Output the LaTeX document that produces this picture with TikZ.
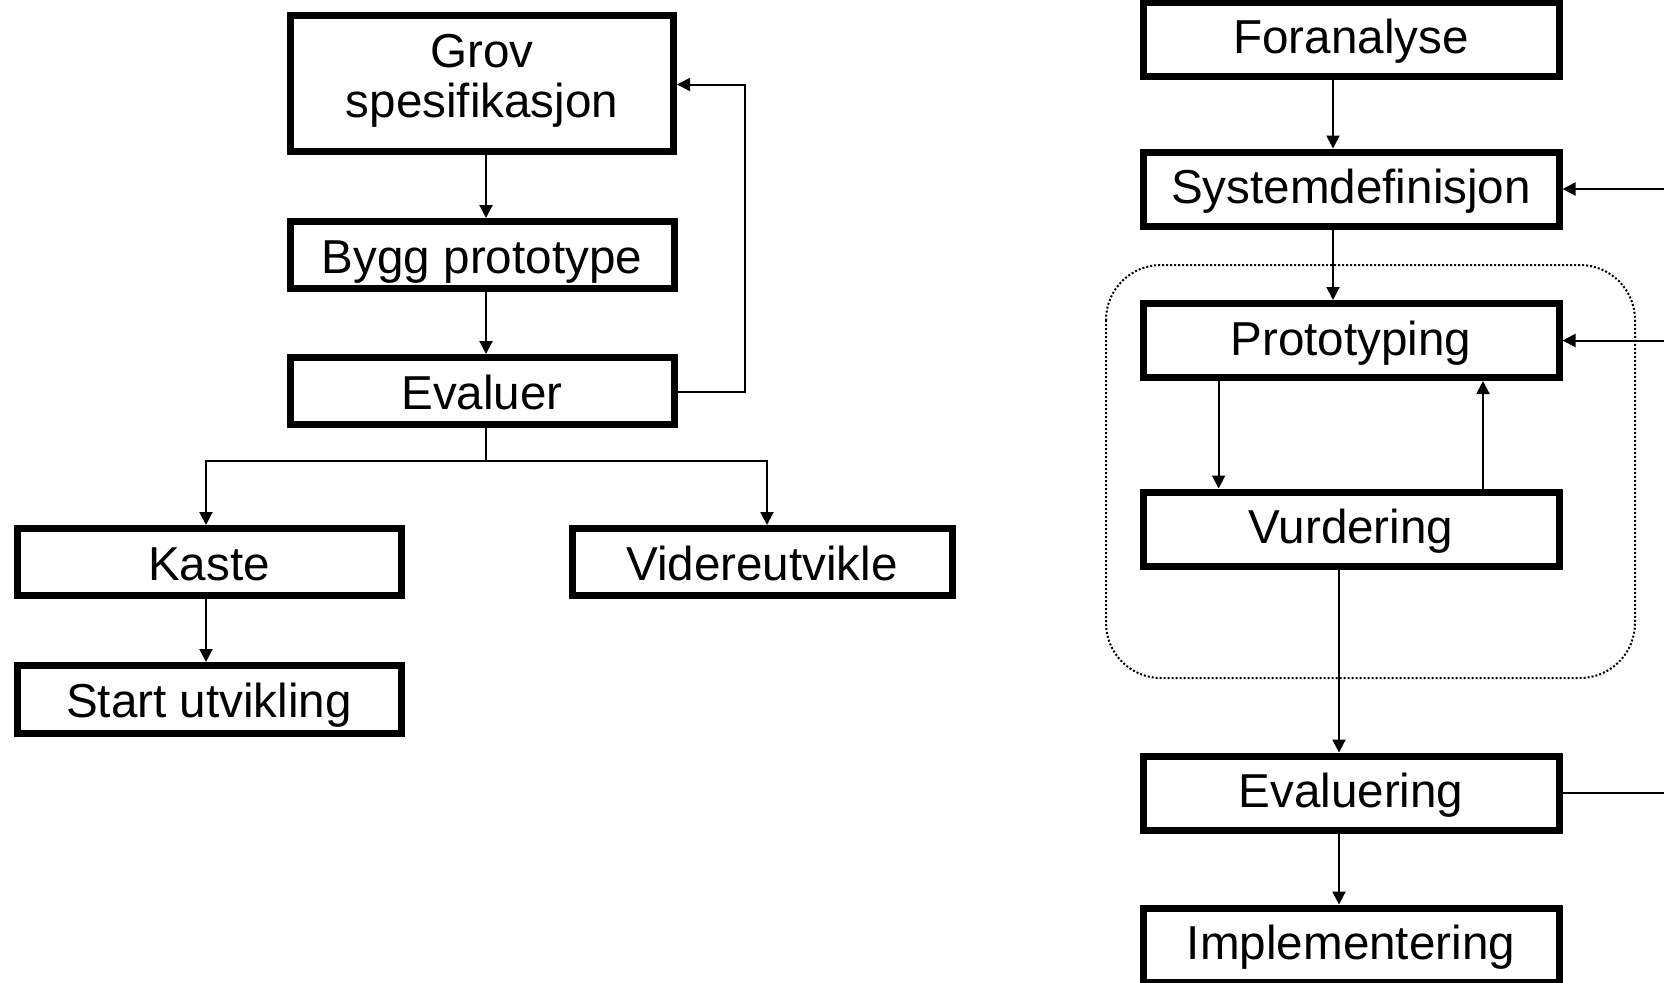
\documentclass[tikz,border=0pt]{standalone}
\usepackage{fontspec}
\setmainfont{Liberation Sans}
\usetikzlibrary{arrows.meta}

\begin{document}
\begin{tikzpicture}[
  x=0.5pt, y=-0.5pt,
  every node/.style={font=\fontsize{23.8pt}{25pt}\selectfont},
  stagebox/.style={draw, line width=3.5pt, fill=white, inner sep=0pt,
    minimum width=192pt, minimum height=33.5pt, align=center,
    text height=22.8pt, text depth=4.8pt},
  widebox/.style={stagebox, minimum width=208pt, minimum height=37pt,
    text height=19.6pt},
  conn/.style={line width=1pt},
  arr/.style={conn, -{Triangle[length=6.5pt,width=6.5pt]}},
  group/.style={line width=1pt, dash pattern=on 1pt off 1pt, rounded corners=27.5pt}
]
\useasboundingbox (0,0) rectangle (1664,982);

% ---------- left: prototype to throw away or to develop further ----------
\node[stagebox, minimum width=191.5pt, minimum height=68pt,
      text height=38.5pt, text depth=5pt] (grov) at (482,83.5) {Grov\\spesifikasjon};
\node[stagebox] (bygg) at (482,255) {Bygg prototype};
\node[stagebox] (eval) at (482,391) {Evaluer};
\node[stagebox] (kaste) at (209,562) {Kaste};
\node[stagebox, minimum width=190pt] (videre) at (762,562) {Videreutvikle};
\node[stagebox, minimum height=34pt] (start) at (209,699.5) {Start utvikling};

\coordinate (xa) at (486,0);
\coordinate (xk) at (206,0);
\coordinate (xv) at (767,0);
\coordinate (split) at (486,460.7);
\coordinate (back) at (745,0);

\draw[arr] (grov.south -| xa) -- (bygg.north -| xa);
\draw[arr] (bygg.south -| xa) -- (eval.north -| xa);
\draw[conn] (eval.south -| xa) -- (split);
\draw[arr] (split) -| (kaste.north -| xk);
\draw[arr] (split) -| (videre.north -| xv);
\draw[arr] (kaste.south -| xk) -- (start.north -| xk);
\draw[arr] ([yshift=-0.5pt]eval.east) -- ([yshift=-0.5pt]eval.east -| back)
  |- ([yshift=-0.5pt]grov.east -| back) -- ([yshift=-0.5pt]grov.east);

% ---------- right: prototyping inside the development process ----------
\draw[group] (1106,265) rectangle (1635,678);

\node[widebox] (foran) at (1351,39) {Foranalyse};
\node[widebox] (sysdef) at (1351,189) {Systemdefinisjon};
\node[widebox] (proto) at (1351,340.5) {Prototyping};
\node[widebox] (vurd) at (1351,529) {Vurdering};
\node[widebox] (evalr) at (1351,793) {Evaluering};
\node[widebox] (impl) at (1351,945) {Implementering};

\coordinate (xm) at (1333,0);
\coordinate (xn) at (1339,0);
\coordinate (xd) at (1218.6,0);
\coordinate (xu) at (1483,0);
\coordinate (edge) at (1664,0);

\draw[arr] (foran.south -| xm) -- (sysdef.north -| xm);
\draw[arr] (sysdef.south -| xm) -- (proto.north -| xm);
\draw[arr] (proto.south -| xd) -- (vurd.north -| xd);
\draw[arr] (vurd.north -| xu) -- (proto.south -| xu);
\draw[arr] (vurd.south -| xn) -- (evalr.north -| xn);
\draw[arr] (evalr.south -| xn) -- (impl.north -| xn);
\draw[arr] (sysdef.east -| edge) -- (sysdef.east);
\draw[arr] (proto.east -| edge) -- (proto.east);
\draw[conn] (evalr.east) -- (evalr.east -| edge);
\end{tikzpicture}
\end{document}
